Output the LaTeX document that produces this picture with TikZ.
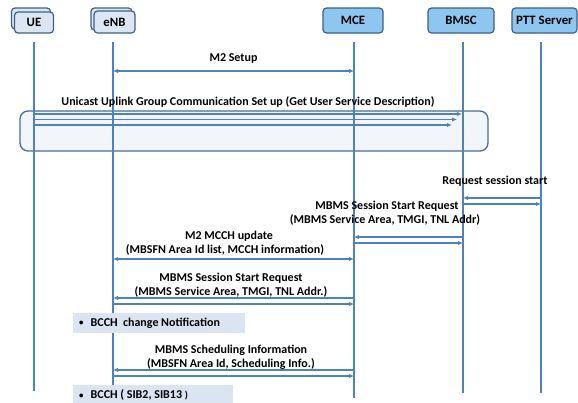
\documentclass[tikz,border=0pt]{standalone}
\usepackage{fontspec}
\setmainfont{Carlito}
\usetikzlibrary{arrows.meta}
\definecolor{lifeblue}{HTML}{4F81BD}
\definecolor{boxedge}{HTML}{3E5F8A}
\definecolor{paleblue}{HTML}{DCE6F2}
\definecolor{skyblue}{HTML}{8DC6EE}
\definecolor{groupfill}{HTML}{F2F5FA}
\definecolor{groupedge}{HTML}{4A6B9B}
\definecolor{notefill}{HTML}{DBE5F1}
\newcommand{\notebullet}{\hspace*{6pt}{\fontsize{9}{10}\selectfont\raisebox{0.6pt}{•}}\hspace{7pt}}
\begin{document}
\begin{tikzpicture}[x=1pt,y=-1pt,
  >={Latex[length=5pt,width=4.5pt]},
  entity/.style={draw=boxedge, line width=1.2pt, rounded corners=3.5pt,
    inner sep=0pt, font=\fontsize{12.8}{14}\selectfont\bfseries},
  paleentity/.style={entity, fill=paleblue, minimum width=39pt, minimum height=21pt},
  brightentity/.style={entity, fill=skyblue, minimum height=25pt},
  lifeline/.style={draw=lifeblue, line width=1.6pt},
  msg/.style={draw=lifeblue, line width=1.3pt},
  lbl/.style={anchor=base, inner sep=0pt, font=\fontsize{12}{14}\selectfont\bfseries},
  groupbox/.style={draw=groupedge, fill=groupfill, line width=1.3pt, rounded corners=8pt,
    minimum width=468pt, minimum height=40pt, inner sep=0pt},
  notebox/.style={fill=notefill, anchor=north west, inner sep=0pt,
    minimum height=20pt, font=\fontsize{12}{14}\selectfont\bfseries}
]
\useasboundingbox (0,0) rectangle (578,402);

% participants (UE and eNB carry a stacked copy behind)
\node[paleentity] (ue-back) at (31,18.5) {};
\node[paleentity] (ue) at (34,22.5) {UE};
\node[paleentity, minimum width=41pt, minimum height=22pt] (enb-back) at (111.5,19) {};
\node[paleentity, minimum width=41pt, minimum height=22pt] (enb) at (114.5,22) {eNB};
\node[brightentity, minimum width=60pt] (mce) at (353,20.5) {MCE};
\node[brightentity, minimum width=66pt] (bmsc) at (461,20.5) {BMSC};
\node[brightentity, minimum width=65pt] (ptt) at (544.5,20.5) {PTT Server};

% group frame for the unicast set-up
\node[groupbox] (group) at (254,131) {};

% lifelines
\coordinate (ue-top) at (34,42);    \coordinate (ue-bot) at (34,391);
\coordinate (enb-top) at (113,42);  \coordinate (enb-bot) at (113,385);
\coordinate (mce-top) at (354,42);  \coordinate (mce-bot) at (354,398);
\coordinate (bmsc-top) at (463,42); \coordinate (bmsc-bot) at (463,393);
\coordinate (ptt-top) at (541,42);  \coordinate (ptt-bot) at (541,393);
\foreach \p in {ue,enb,mce,bmsc,ptt}
  \draw[lifeline] (\p-top) -- (\p-bot);

% M2 setup
\node[lbl] (l-m2) at (233.5,61) {M2 Setup};
\coordinate (y-m2) at (0,71);
\draw[msg,<->] (enb-top |- y-m2) -- (mce-top |- y-m2);

% unicast uplink group communication set up
\node[lbl] (l-uni) at (248,105) {Unicast Uplink Group Communication Set up (Get User Service Description)};
\coordinate (u1) at (462,114);
\coordinate (u2) at (457,119.5);
\coordinate (u3) at (452,125);
\draw[msg,->] (ue-top |- u1) -- (u1);
\draw[msg,->] (ue-top |- u2) -- (u2);
\draw[msg,->] (ue-top |- u3) -- (u3);

% request session start
\node[lbl] (l-req) at (495,184) {Request session start};
\coordinate (y-req1) at (0,198);
\coordinate (y-req2) at (0,204);
\draw[msg,->] (ptt-top |- y-req1) -- (bmsc-top |- y-req1);
\draw[msg,->] (bmsc-top |- y-req2) -- (ptt-top |- y-req2);

% MBMS session start request, BM-SC to MCE
\node[lbl] (l-ss1a) at (387,209) {MBMS Session Start Request};
\node[lbl] (l-ss1b) at (385,223) {(MBMS Service Area, TMGI, TNL Addr)};
\coordinate (y-ss1a) at (0,237);
\coordinate (y-ss1b) at (0,243);
\draw[msg,->] (bmsc-top |- y-ss1a) -- (mce-top |- y-ss1a);
\draw[msg,->] (mce-top |- y-ss1b) -- (bmsc-top |- y-ss1b);

% M2 MCCH update
\node[lbl] (l-mcch-a) at (229,239) {M2 MCCH update};
\node[lbl] (l-mcch-b) at (225,253) {(MBSFN Area Id list, MCCH information)};
\coordinate (y-mcch) at (0,259);
\draw[msg,<->] (enb-top |- y-mcch) -- (mce-top |- y-mcch);

% MBMS session start request, MCE to eNB
\node[lbl] (l-ss2a) at (231,281) {MBMS Session Start Request};
\node[lbl] (l-ss2b) at (231,295.5) {(MBMS Service Area, TMGI, TNL Addr.)};
\coordinate (y-ss2a) at (0,298);
\coordinate (y-ss2b) at (0,304);
\draw[msg,->] (mce-top |- y-ss2a) -- (enb-top |- y-ss2a);
\draw[msg,->] (enb-top |- y-ss2b) -- (mce-top |- y-ss2b);

% BCCH change notification
\node[notebox] (n-bcch1) at (73,313)
  {\makebox[172pt][l]{\notebullet BCCH\ \ change Notification}};

% MBMS scheduling information
\node[lbl] (l-sch-a) at (231,353) {MBMS Scheduling Information};
\node[lbl] (l-sch-b) at (231,367.7) {(MBSFN Area Id, Scheduling Info.)};
\coordinate (y-sch1) at (0,370);
\coordinate (y-sch2) at (0,376);
\draw[msg,->] (mce-top |- y-sch1) -- (enb-top |- y-sch1);
\draw[msg,->] (enb-top |- y-sch2) -- (mce-top |- y-sch2);

% BCCH system information
\node[notebox] (n-bcch2) at (73,385)
  {\makebox[160pt][l]{\notebullet BCCH ( SIB2, SIB13 {\fontsize{10}{12}\selectfont)}}};
\end{tikzpicture}
\end{document}
